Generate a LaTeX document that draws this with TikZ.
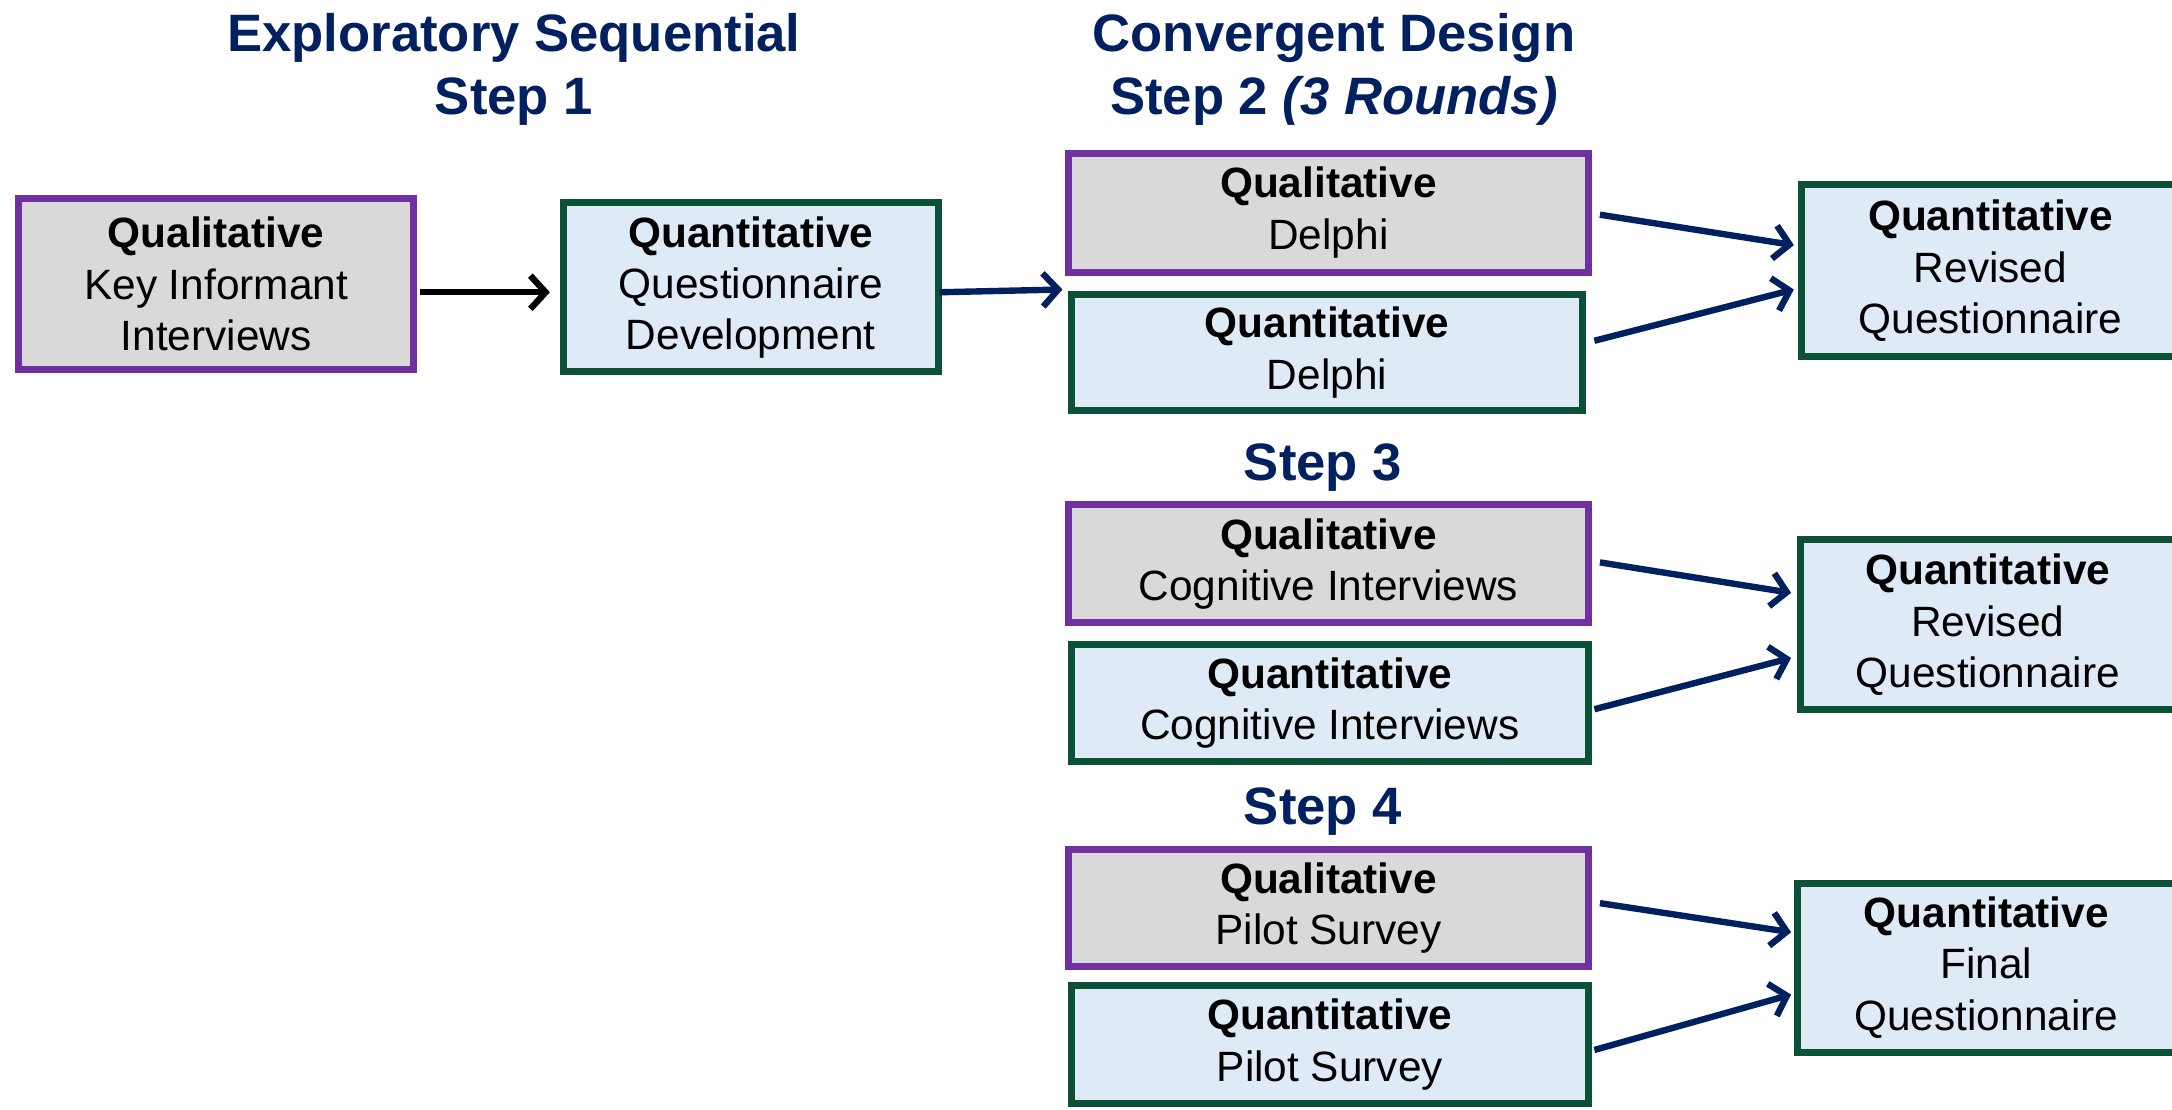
\documentclass[tikz,border=0pt]{standalone}
\usepackage{fontspec}
\setmainfont{Liberation Sans}
\usetikzlibrary{arrows.meta,calc}
\definecolor{qualedge}{HTML}{7030A0}
\definecolor{quantedge}{HTML}{0B5138}
\definecolor{qualfill}{HTML}{D9D9D9}
\definecolor{quantfill}{HTML}{DEEAF6}
\definecolor{navy}{HTML}{002060}
\begin{document}
\begin{tikzpicture}[x=0.5pt,y=-0.5pt,
 box/.style={draw, line width=2.5pt, inner sep=0pt, align=center, font=\fontsize{15.3}{18.5}\selectfont},
 qual/.style={box, draw=qualedge, fill=qualfill},
 quant/.style={box, draw=quantedge, fill=quantfill},
 title/.style={text=navy, font=\fontsize{19}{23}\selectfont\bfseries, align=center, anchor=base},
 arr/.style={line width=2.3pt, -{Straight Barb[length=5.5pt,width=12pt]}, navy},
 ]
\useasboundingbox (0,0) rectangle (1568,801);
\clip (0,0) rectangle (1568,801);
\fill[white] (0,0) rectangle (1568,801);

% titles
\node[title] (t1) at (371,83) {Exploratory Sequential\\Step 1};
\node[title] (t2) at (963,83) {Convergent Design\\Step 2 \textit{(3 Rounds)}};
\node[title] (t3) at (955,347) {Step 3};
\node[title] (t4) at (955,595) {Step 4};

% step 1
\node[qual, minimum width=142.5pt, minimum height=61.5pt] (b1) at (156,205) {\textbf{Qualitative}\\Key Informant\\Interviews};
\node[quant, minimum width=135.5pt, minimum height=61pt] (b2) at (542,207.5) {\textbf{Quantitative}\\Questionnaire\\Development};

% step 2
\node[qual, minimum width=187.5pt, minimum height=43pt] (b3) at (959,153.5) {\textbf{Qualitative}\\Delphi};
\node[quant, minimum width=184.5pt, minimum height=42pt] (b4) at (958,254.5) {\textbf{Quantitative}\\Delphi};
\node[quant, minimum width=136.5pt, minimum height=62pt] (b5) at (1437,195.5) {\textbf{Quantitative}\\Revised\\Questionnaire};

% step 3
\node[qual, minimum width=187.5pt, minimum height=42.5pt] (b6) at (959,407) {\textbf{Qualitative}\\Cognitive Interviews};
\node[quant, minimum width=186.5pt, minimum height=42pt] (b7) at (960,507.5) {\textbf{Quantitative}\\Cognitive Interviews};
\node[quant, minimum width=135.5pt, minimum height=61.5pt] (b8) at (1435,451) {\textbf{Quantitative}\\Revised\\Questionnaire};

% step 4
\node[qual, minimum width=187.5pt, minimum height=42pt] (b9) at (959,655.5) {\textbf{Qualitative}\\Pilot Survey};
\node[quant, minimum width=186.5pt, minimum height=42.5pt] (b10) at (960,754) {\textbf{Quantitative}\\Pilot Survey};
\node[quant, minimum width=136.5pt, minimum height=61pt] (b11) at (1434,698.5) {\textbf{Quantitative}\\Final\\Questionnaire};

% connectors
\coordinate (gap) at ($(b4.north west)+(-4,-1)$);
\draw[arr, black] ($(b1.east)+(2,6)$) -- ($(b2.west)+(-7,3.5)$);
\draw[arr] ($(b2.east)+(-2,3.5)$) -- (gap);
\draw[arr] ($(b3.east)+(6,1.5)$) -- ($(b5.west)+(-3,-18.5)$);
\draw[arr] ($(b4.east)+(6,-8.5)$) -- ($(b5.west)+(-3,13.5)$);
\draw[arr] ($(b6.east)+(6,-1)$) -- ($(b8.west)+(-4,-23)$);
\draw[arr] ($(b7.east)+(2,4.5)$) -- ($(b8.west)+(-4,24)$);
\draw[arr] ($(b9.east)+(6,-3.5)$) -- ($(b11.west)+(-2,-25.5)$);
\draw[arr] ($(b10.east)+(2,4)$) -- ($(b11.west)+(-2,19.5)$);
\end{tikzpicture}
\end{document}
